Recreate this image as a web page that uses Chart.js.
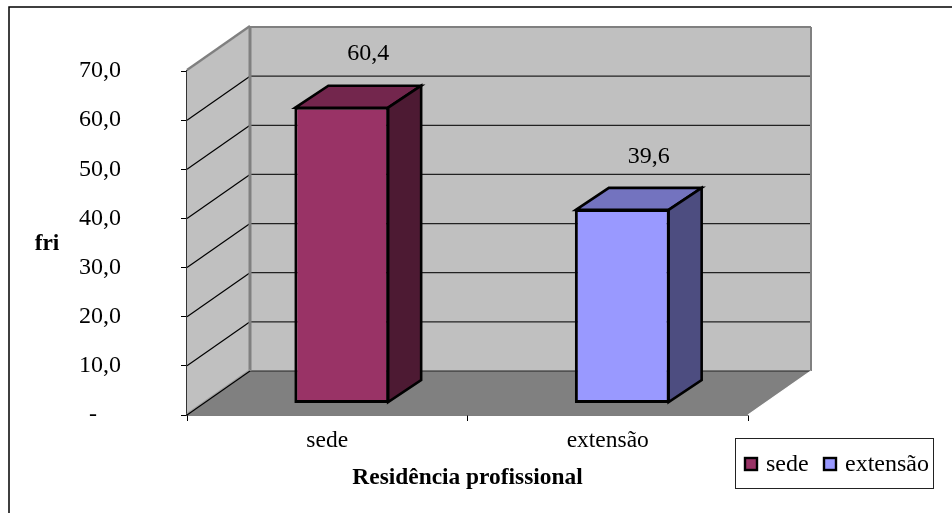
<!DOCTYPE html>
<html>
<head>
<meta charset="UTF-8">
<title>Residência profissional</title>
<script src="https://cdn.jsdelivr.net/npm/chart.js@4"></script>
<style>
    html, body { margin: 0; padding: 0; background: #fff; }
    #wrap { position: absolute; left: 0; top: 0; width: 952px; height: 513px; }
</style>
</head>
<body>
<div id="wrap"><canvas id="grafico" width="952" height="513"></canvas></div>
<script>
const categorias = ['sede', 'extensão'];
const valores = [60.4, 39.6];
const yTicks = [0, 10, 20, 30, 40, 50, 60, 70];
const corFrente = ['#993366', '#9999ff'];
const corTopo = ['#73264d', '#7373bf'];
const corLado = ['#4d1a33', '#4d4d80'];

const FONTE = '"Liberation Serif", "Times New Roman", serif';
const TAM = 24;
const TAM_BOLD = 23.4;
// depth of the 3D box and how far the bars sit inside it
const fundoX = 63, fundoY = -44;
const barraDesl = { x: 14.5, y: -11.5 };
const barraProf = { x: 33, y: -22 };

const virgula = v => v.toFixed(1).replace('.', ',');

function poli(ctx, pts, fill, stroke, lw) {
    ctx.beginPath();
    pts.forEach((p, i) => i ? ctx.lineTo(p[0], p[1]) : ctx.moveTo(p[0], p[1]));
    ctx.closePath();
    if (fill) { ctx.fillStyle = fill; ctx.fill(); }
    if (stroke) { ctx.strokeStyle = stroke; ctx.lineWidth = lw; ctx.stroke(); }
}

function linha(ctx, x1, y1, x2, y2, cor, lw) {
    ctx.beginPath();
    ctx.moveTo(x1, y1);
    ctx.lineTo(x2, y2);
    ctx.strokeStyle = cor;
    ctx.lineWidth = lw;
    ctx.stroke();
}

// walls, floor and gridlines, all from the y scale
const caixa3d = {
    id: 'caixa3d',
    beforeDatasetsDraw(chart) {
        const ctx = chart.ctx, a = chart.chartArea, y = chart.scales.y;
        const dx = fundoX, dy = fundoY;
        const y0 = y.getPixelForValue(0), yMax = y.getPixelForValue(70);
        ctx.save();
        poli(ctx, [[a.left, yMax], [a.left + dx, yMax + dy], [a.left + dx, y0 + dy], [a.left, y0]], '#c0c0c0');
        poli(ctx, [[a.left + dx, yMax + dy], [a.right + dx, yMax + dy], [a.right + dx, y0 + dy], [a.left + dx, y0 + dy]], '#c0c0c0');
        poli(ctx, [[a.left, y0], [a.left + dx, y0 + dy], [a.right + dx, y0 + dy], [a.right, y0]], '#808080');
        yTicks.forEach(v => {
            if (v === 0 || v === 70) return;
            const py = y.getPixelForValue(v);
            linha(ctx, a.left, py, a.left + dx, py + dy, '#000', 1.2);
            linha(ctx, a.left + dx, py + dy, a.right + dx, py + dy, '#222', 1.2);
        });
        linha(ctx, a.left + dx, y0 + dy, a.right + dx, y0 + dy, '#222', 1.2);
        linha(ctx, a.left + dx, yMax + dy, a.right + dx, yMax + dy, '#808080', 2);
        linha(ctx, a.right + dx, yMax + dy, a.right + dx, y0 + dy, '#808080', 2);
        linha(ctx, a.left + dx, yMax + dy, a.left + dx, y0 + dy, '#808080', 3);
        linha(ctx, a.left, yMax - 1, a.left + dx, yMax + dy - 1, '#808080', 2.5);
        linha(ctx, a.left, y0 - 1, a.left + dx, y0 + dy - 1, '#a0a0a0', 2);
        linha(ctx, a.left, y0, a.left + dx, y0 + dy, '#000', 1.2);
        linha(ctx, a.right, y0, a.right + dx, y0 + dy, '#fff', 1.2);
        ctx.restore();
    },
    // the bars stand inside the box, so shift them and add top and side faces
    beforeDatasetDraw(chart) {
        const ctx = chart.ctx;
        ctx.save();
        ctx.translate(barraDesl.x, barraDesl.y);
    },
    afterDatasetDraw(chart, args) {
        const ctx = chart.ctx;
        const px = barraProf.x, py = barraProf.y;
        args.meta.data.forEach((b, i) => {
            const e = b.x - b.width / 2 + 1, d = b.x + b.width / 2 - 1;
            const t = b.y + 1, f = b.base - 1;
            ctx.lineJoin = 'miter';
            poli(ctx, [[e, t], [e + px, t + py], [d + px, t + py], [d, t]], corTopo[i], '#000', 2.6);
            poli(ctx, [[d, t], [d + px, t + py], [d + px, f + py], [d, f]], corLado[i], '#000', 2.6);
        });
        ctx.restore();
    },
    afterDraw(chart) {
        const ctx = chart.ctx;
        ctx.save();
        // outer frame, runs off the right and bottom edges
        ctx.strokeStyle = '#000';
        ctx.lineWidth = 1.5;
        ctx.strokeRect(9, 7, 960, 560);

        ctx.fillStyle = '#000';
        ctx.textBaseline = 'middle';

        // value labels above the bars
        ctx.font = TAM + 'px ' + FONTE;
        ctx.textAlign = 'center';
        chart.getDatasetMeta(0).data.forEach((b, i) => {
            ctx.fillText(virgula(valores[i]), b.x + 41, b.y - 64);
        });

        // horizontal y title
        ctx.font = 'bold ' + TAM_BOLD + 'px ' + FONTE;
        ctx.fillText('fri', 47, 244);

        // legend
        ctx.strokeStyle = '#222';
        ctx.lineWidth = 1;
        ctx.strokeRect(735.5, 438.5, 198, 50);
        ctx.font = TAM + 'px ' + FONTE;
        ctx.textAlign = 'left';
        [[745, 766], [824, 845]].forEach((p, i) => {
            ctx.fillStyle = corFrente[i];
            ctx.strokeStyle = '#000';
            ctx.lineWidth = 2.4;
            ctx.fillRect(p[0], 458, 12, 12);
            ctx.strokeRect(p[0], 458, 12, 12);
            ctx.fillStyle = '#000';
            ctx.fillText(categorias[i], p[1], 465);
        });
        ctx.restore();
    }
};

new Chart(document.getElementById('grafico'), {
    type: 'bar',
    data: {
        labels: categorias,
        datasets: [{
            data: valores,
            backgroundColor: corFrente,
            borderColor: '#000',
            borderWidth: 3,
            borderSkipped: false,
            categoryPercentage: 1,
            barPercentage: 0.338
        }]
    },
    plugins: [caixa3d],
    options: {
        responsive: false,
        animation: false,
        layout: { padding: { left: 0, top: 71, right: 204, bottom: 0 } },
        plugins: { legend: { display: false }, tooltip: { enabled: false } },
        scales: {
            x: {
                afterFit(s) { s.height = 98; s.paddingLeft = 0; s.paddingRight = 0; },
                grid: { drawOnChartArea: false, color: '#000', tickLength: 6 },
                border: { color: '#000', width: 1.5 },
                ticks: { color: '#000', font: { family: FONTE, size: 23.5 }, padding: 6 },
                title: {
                    display: true,
                    text: 'Residência profissional',
                    color: '#000',
                    font: { family: FONTE, size: TAM_BOLD, weight: 'bold' },
                    padding: { top: 0, bottom: 21 }
                }
            },
            y: {
                min: 0,
                max: 70,
                afterFit(s) { s.width = 187; s.paddingTop = 0; s.paddingBottom = 0; },
                afterBuildTicks(s) { s.ticks = yTicks.map(v => ({ value: v })); },
                grid: { drawOnChartArea: false, color: '#000', tickLength: 6 },
                border: { color: '#333', width: 2 },
                ticks: {
                    color: '#000',
                    padding: 60,
                    font: { family: FONTE, size: TAM },
                    callback: v => v === 0 ? '-\u00a0\u00a0\u00a0\u00a0' : virgula(v)
                }
            }
        }
    }
});
</script>
</body>
</html>
